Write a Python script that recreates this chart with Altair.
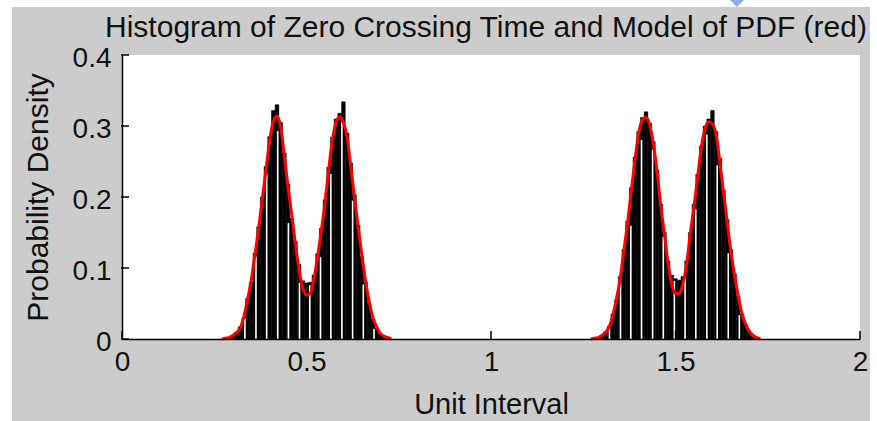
import altair as alt
import pandas as pd

# ---------------- data ----------------
title_text = "Histogram of Zero Crossing Time and Model of PDF (red)"
x_title = "Unit Interval"
y_title = "Probability Density"

x_ticks = [0, 0.5, 1, 1.5, 2]
y_ticks = [0, 0.1, 0.2, 0.3, 0.4]

# histogram bin centres (bin width 0.01) and heights
hist1_x = [0.28, 0.29, 0.30, 0.31, 0.32, 0.33, 0.34, 0.35, 0.36, 0.37, 0.38, 0.39,
           0.40, 0.41, 0.42, 0.43, 0.44, 0.45, 0.46, 0.47, 0.48, 0.49, 0.50, 0.51,
           0.52, 0.53, 0.54, 0.55, 0.56, 0.57, 0.58, 0.59, 0.60, 0.61, 0.62, 0.63,
           0.64, 0.65, 0.66, 0.67, 0.68, 0.69, 0.70, 0.71, 0.72]
hist1_h = [0.000, 0.002, 0.004, 0.009, 0.017, 0.030, 0.057, 0.080, 0.121, 0.158, 0.200, 0.243,
           0.285, 0.322, 0.330, 0.305, 0.262, 0.218, 0.170, 0.137, 0.105, 0.082, 0.079, 0.080,
           0.090, 0.120, 0.156, 0.196, 0.242, 0.284, 0.310, 0.318, 0.334, 0.290, 0.248, 0.203,
           0.160, 0.116, 0.080, 0.050, 0.028, 0.015, 0.007, 0.003, 0.001]
hist2_x = [1.28, 1.29, 1.30, 1.31, 1.32, 1.33, 1.34, 1.35, 1.36, 1.37, 1.38, 1.39,
           1.40, 1.41, 1.42, 1.43, 1.44, 1.45, 1.46, 1.47, 1.48, 1.49, 1.50, 1.51,
           1.52, 1.53, 1.54, 1.55, 1.56, 1.57, 1.58, 1.59, 1.60, 1.61, 1.62, 1.63,
           1.64, 1.65, 1.66, 1.67, 1.68, 1.69, 1.70, 1.71, 1.72]
hist2_h = [0.000, 0.002, 0.004, 0.010, 0.018, 0.035, 0.055, 0.088, 0.126, 0.166, 0.213, 0.256,
           0.292, 0.312, 0.320, 0.304, 0.278, 0.238, 0.190, 0.150, 0.110, 0.090, 0.085, 0.083,
           0.088, 0.110, 0.150, 0.190, 0.232, 0.272, 0.300, 0.310, 0.322, 0.292, 0.255, 0.210,
           0.168, 0.126, 0.092, 0.060, 0.035, 0.020, 0.010, 0.004, 0.001]

# positions of the thin white gaps visible inside the black histogram
gaps1_x = [0.333, 0.363, 0.392, 0.422, 0.451, 0.481, 0.509, 0.538, 0.566, 0.596, 0.625, 0.654, 0.683]
gaps2_x = [1.321, 1.351, 1.379, 1.408, 1.438, 1.467, 1.497, 1.526, 1.555, 1.585, 1.613, 1.643, 1.673]

# red model PDF
curve1_x = [0.27, 0.28, 0.29, 0.30, 0.31, 0.32, 0.33, 0.34, 0.35, 0.36, 0.37, 0.38,
            0.39, 0.40, 0.41, 0.42, 0.43, 0.44, 0.45, 0.46, 0.47, 0.48, 0.49, 0.50,
            0.51, 0.52, 0.53, 0.54, 0.55, 0.56, 0.57, 0.58, 0.59, 0.60, 0.61, 0.62,
            0.63, 0.64, 0.65, 0.66, 0.67, 0.68, 0.69, 0.70, 0.71, 0.72, 0.73]
curve1_y = [0.000, 0.001, 0.002, 0.005, 0.009, 0.015, 0.031, 0.055, 0.082, 0.118, 0.155, 0.196,
            0.238, 0.279, 0.306, 0.314, 0.299, 0.258, 0.214, 0.175, 0.134, 0.097, 0.072, 0.062,
            0.064, 0.085, 0.116, 0.152, 0.192, 0.238, 0.280, 0.305, 0.313, 0.305, 0.285, 0.243,
            0.200, 0.158, 0.118, 0.082, 0.052, 0.030, 0.017, 0.008, 0.004, 0.002, 0.000]
curve2_x = [1.27, 1.28, 1.29, 1.30, 1.31, 1.32, 1.33, 1.34, 1.35, 1.36, 1.37, 1.38,
            1.39, 1.40, 1.41, 1.42, 1.43, 1.44, 1.45, 1.46, 1.47, 1.48, 1.49, 1.50,
            1.51, 1.52, 1.53, 1.54, 1.55, 1.56, 1.57, 1.58, 1.59, 1.60, 1.61, 1.62,
            1.63, 1.64, 1.65, 1.66, 1.67, 1.68, 1.69, 1.70, 1.71, 1.72, 1.73]
curve2_y = [0.000, 0.001, 0.002, 0.005, 0.009, 0.017, 0.033, 0.057, 0.085, 0.124, 0.163, 0.208,
            0.251, 0.290, 0.308, 0.312, 0.302, 0.275, 0.236, 0.188, 0.148, 0.106, 0.077, 0.064,
            0.064, 0.078, 0.105, 0.148, 0.186, 0.228, 0.270, 0.296, 0.306, 0.303, 0.288, 0.250,
            0.207, 0.165, 0.124, 0.090, 0.060, 0.036, 0.021, 0.011, 0.005, 0.002, 0.000]

# ---------------- tables ----------------
W, H = 738, 284
HALF = 0.005
FONT = "Liberation Sans"

bar_rows = []
for xs, hs in ((hist1_x, hist1_h), (hist2_x, hist2_h)):
    for c, h in zip(xs, hs):
        bar_rows.append({"x0": c - HALF, "x1": c + HALF, "h": h, "b": 0})
bars_df = pd.DataFrame(bar_rows)

gap_rows = []
for gx, xs, hs in ((gaps1_x, hist1_x, hist1_h), (gaps2_x, hist2_x, hist2_h)):
    for p in gx:
        i = min(range(len(xs)), key=lambda k: abs(xs[k] - p))
        j = i + 1 if p > xs[i] else i - 1
        j = max(0, min(len(xs) - 1, j))
        gap_rows.append({"g": p, "top": min(hs[i], hs[j]) * 0.96, "b": 0})
gaps_df = pd.DataFrame(gap_rows)

curve_rows = []
for seg, (xs, ys) in enumerate(((curve1_x, curve1_y), (curve2_x, curve2_y))):
    for x, y in zip(xs, ys):
        curve_rows.append({"cx": x, "cy": y, "seg": seg})
curve_df = pd.DataFrame(curve_rows)

xt_df = pd.DataFrame({"xt": x_ticks})
yt_df = pd.DataFrame({"yt": y_ticks})
one = alt.Data(values=[{"k": 1}])

xs_ = alt.Scale(domain=[0, 2], nice=False, zero=False)
ys_ = alt.Scale(domain=[0, 0.4], nice=False, zero=False)

x_axis = alt.Axis(
    values=x_ticks, format=".1~f", title=x_title, ticks=False, tickSize=0,
    grid=False, domain=True, domainColor="#000", domainWidth=1.5,
    labelFont=FONT, labelFontSize=28, labelColor="#111", labelPadding=9,
    labelFlush=False, labelOverlap=False,
    titleFont=FONT, titleFontSize=29, titleFontWeight="normal", titleColor="#111",
    titlePadding=14, zindex=1)
y_axis = alt.Axis(
    values=y_ticks, format=".1~f", title=y_title, ticks=False, tickSize=0,
    grid=False, domain=True, domainColor="#000", domainWidth=1.5,
    labelFont=FONT, labelFontSize=28, labelColor="#111", labelPadding=11,
    labelFlush=False, labelOverlap=False, labelOffset=3,
    titleFont=FONT, titleFontSize=30, titleFontWeight="normal", titleColor="#111",
    titlePadding=19, zindex=1)

# ---------------- layers ----------------
# white screenshot margins around the grey figure window, and the small marker above it
margin_left = alt.Chart(one).mark_rect(color="white").encode(
    x=alt.value(-122), x2=alt.value(-110), y=alt.value(-55), y2=alt.value(366))
margin_top = alt.Chart(one).mark_rect(color="white").encode(
    x=alt.value(-122), x2=alt.value(755), y=alt.value(-55), y2=alt.value(-48))
margin_right = alt.Chart(one).mark_rect(color="white").encode(
    x=alt.value(748), x2=alt.value(755), y=alt.value(-55), y2=alt.value(366))
marker = alt.Chart(one).mark_point(
    shape="M-1,-1L1,-1L0,0Z", filled=True, fill="#8ab0e0", size=200, opacity=1
).encode(x=alt.value(615), y=alt.value(-48))

bars = alt.Chart(bars_df).mark_rect(color="black", stroke="black", strokeWidth=0.5).encode(
    x=alt.X("x0:Q", scale=xs_, axis=x_axis),
    x2="x1:Q",
    y=alt.Y("h:Q", scale=ys_, axis=y_axis),
    y2="b:Q",
)

gaps = alt.Chart(gaps_df).mark_rule(color="white", strokeWidth=1.6).encode(
    x=alt.X("g:Q", scale=xs_, axis=x_axis),
    y=alt.Y("top:Q", scale=ys_, axis=y_axis),
    y2="b:Q",
)

curve = alt.Chart(curve_df).mark_line(color="#ff0000", strokeWidth=3, interpolate="monotone").encode(
    x=alt.X("cx:Q", scale=xs_, axis=x_axis),
    y=alt.Y("cy:Q", scale=ys_, axis=y_axis),
    detail="seg:N",
)

xticks = alt.Chart(xt_df).mark_rule(color="#000", strokeWidth=1.5).encode(
    x=alt.X("xt:Q", scale=xs_, axis=x_axis), y=alt.value(H), y2=alt.value(H - 8)
)
yticks = alt.Chart(yt_df).mark_rule(color="#000", strokeWidth=1.5).encode(
    y=alt.Y("yt:Q", scale=ys_, axis=y_axis), x=alt.value(-1), x2=alt.value(7)
)

chart = alt.layer(
    margin_left, margin_top, margin_right, marker, bars, gaps, curve, xticks, yticks
).properties(
    width=W,
    height=H,
    padding={"left": 122, "top": 55, "right": 17, "bottom": 82},
    autosize=alt.AutoSizeParams(type="none"),
    background="#cccccc",
    title=alt.TitleParams(
        text=title_text, font=FONT, fontSize=30, fontWeight="normal", color="#111",
        anchor="middle", frame="group", offset=-43, dx=-5,
    ),
).configure_view(stroke=None, fill="white")

chart.save("out.html", embed_options={"renderer": "svg", "actions": False})
